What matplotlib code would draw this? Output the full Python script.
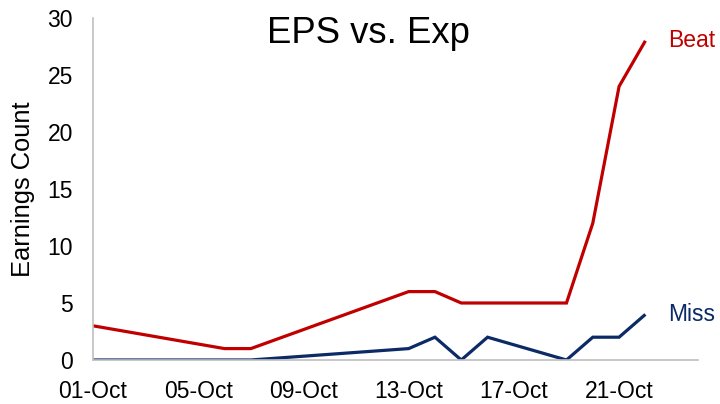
import matplotlib
matplotlib.use("Agg")
import matplotlib.pyplot as plt
import matplotlib.dates as mdates
from datetime import date

plt.rcParams['font.family'] = ['Liberation Sans', 'DejaVu Sans']

beat_days = [1, 6, 7, 13, 14, 15, 19, 20, 21, 22]
beat_vals = [3, 1, 1, 6, 6, 5, 5, 12, 24, 28]
miss_days = [1, 7, 13, 14, 15, 16, 19, 20, 21, 22]
miss_vals = [0, 0, 1, 2, 0, 2, 0, 2, 2, 4]
tick_days = [1, 5, 9, 13, 17, 21]
y_ticks = [0, 5, 10, 15, 20, 25, 30]

YEAR, MONTH = 2019, 10
beat_dates = [date(YEAR, MONTH, d) for d in beat_days]
miss_dates = [date(YEAR, MONTH, d) for d in miss_days]
tick_dates = [date(YEAR, MONTH, d) for d in tick_days]

RED = '#C00000'
NAVY = '#0B2A66'

fig = plt.figure(figsize=(7.2, 4.04), dpi=100)
ax = fig.add_axes([93/720, 1-360/404, (698-93)/720, (360-18)/404])

ax.plot(beat_dates, beat_vals, color=RED, lw=2.3, solid_joinstyle='miter', solid_capstyle='butt')
ax.plot(miss_dates, miss_vals, color=NAVY, lw=2.3, solid_joinstyle='miter', solid_capstyle='butt')

ax.annotate('Beat', xy=(beat_dates[-1], beat_vals[-1]), xytext=(23, 0),
            textcoords='offset pixels', color=RED, fontsize=16.5, va='center', ha='left')
ax.annotate('Miss', xy=(miss_dates[-1], miss_vals[-1]), xytext=(23, 0),
            textcoords='offset pixels', color=NAVY, fontsize=16.5, va='center', ha='left')

ax.set_xlim(date(YEAR, MONTH, 1), date(YEAR, MONTH, 24))
ax.set_ylim(0, 30)
ax.set_xticks(tick_dates)
ax.xaxis.set_major_formatter(mdates.DateFormatter('%d-%b'))
ax.set_yticks(y_ticks)
ax.tick_params(axis='both', length=0, labelsize=16.5, pad=14.5, colors='black')

for s in ['top', 'right']:
    ax.spines[s].set_visible(False)
for s in ['left', 'bottom']:
    ax.spines[s].set_color('#BFBFBF')
    ax.spines[s].set_linewidth(1.2)

fig.text(23/720, 1-189/404, 'Earnings Count', rotation=90, fontsize=18.4, ha='center', va='center')

fig.text(368/720, 1-43/404, 'EPS vs. Exp', fontsize=26.3, ha='center', va='baseline')

fig.savefig('out.png', dpi=100)
